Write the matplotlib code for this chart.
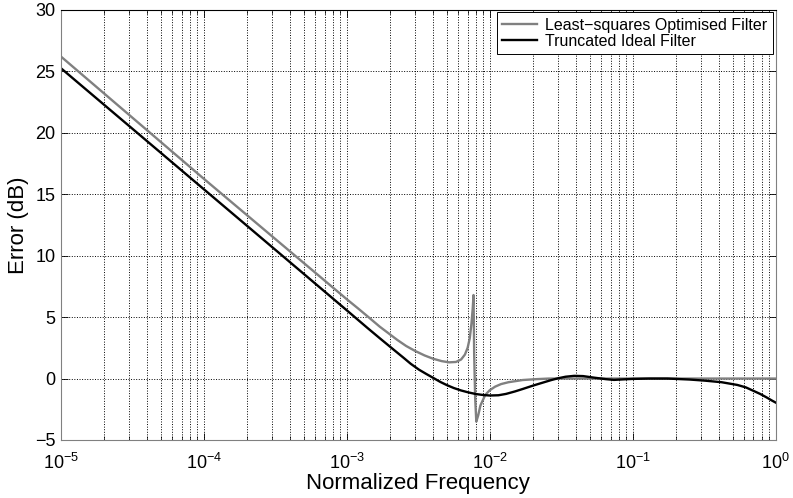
import numpy as np
import matplotlib
matplotlib.use("Agg")
import matplotlib.pyplot as plt
from matplotlib.ticker import LogLocator, MultipleLocator, NullFormatter

plt.rcParams['font.family'] = ['Liberation Sans', 'DejaVu Sans']
plt.rcParams['mathtext.fontset'] = 'custom'
plt.rcParams['mathtext.rm'] = 'Liberation Sans'
plt.rcParams['mathtext.it'] = 'Liberation Sans:italic'
plt.rcParams['mathtext.bf'] = 'Liberation Sans:bold'

# Truncated ideal filter error
ideal_freq = [1e-5, 1e-4, 1e-3, 1.4e-3, 1.7e-3, 2.1e-3, 2.5e-3, 2.8e-3, 3.2e-3,
              3.6e-3, 4.0e-3, 4.5e-3, 5.0e-3, 5.6e-3, 6.3e-3, 7.1e-3, 8.0e-3,
              9.0e-3, 1.0e-2, 1.15e-2, 1.3e-2, 1.5e-2, 1.7e-2, 2.0e-2, 2.4e-2,
              2.7e-2, 3.0e-2, 3.4e-2, 3.9e-2, 4.5e-2, 5.4e-2, 6.5e-2, 7.4e-2,
              8.5e-2, 0.1, 0.13, 0.175, 0.25, 0.32, 0.42, 0.54, 0.62, 0.70,
              0.78, 0.87, 0.94, 1.0]
ideal_db = [25.25, 15.4, 5.55, 4.1, 3.28, 2.4, 1.68, 1.2, 0.72,
            0.37, 0.07, -0.27, -0.53, -0.77, -0.97, -1.13, -1.26,
            -1.34, -1.38, -1.36, -1.25, -1.05, -0.85, -0.58, -0.3,
            -0.12, 0.02, 0.15, 0.22, 0.2, 0.07, -0.05, -0.11,
            -0.07, -0.03, 0.0, 0.0, -0.08, -0.17, -0.3, -0.52, -0.72, -1.0,
            -1.25, -1.55, -1.78, -1.95]

# Least-squares optimised filter error
ls_freq = [1e-5, 1e-4, 1e-3, 1.2e-3, 1.4e-3, 1.7e-3, 2.0e-3, 2.25e-3, 2.6e-3,
           3.0e-3, 3.5e-3, 4.0e-3, 4.6e-3, 5.2e-3, 5.8e-3, 6.3e-3, 6.7e-3,
           7.0e-3, 7.25e-3, 7.45e-3, 7.6e-3, 7.7e-3, 7.78e-3, 7.9e-3, 8.05e-3,
           8.3e-3, 8.6e-3, 9.3e-3, 1.0e-2, 1.09e-2, 1.2e-2, 1.35e-2, 1.7e-2,
           2.1e-2, 2.6e-2, 5e-2, 0.1, 1.0]
ls_db = [26.2, 16.25, 6.45, 5.7, 5.05, 4.22, 3.6, 3.15, 2.65,
         2.25, 1.88, 1.62, 1.42, 1.32, 1.35, 1.55, 1.95,
         2.5, 3.3, 4.5, 5.7, 6.8, 2.0, -1.5, -3.5,
         -3.0, -2.2, -1.33, -0.95, -0.66, -0.45, -0.3, -0.12,
         -0.05, 0.0, 0.0, 0.0, 0.0]

fig = plt.figure(figsize=(7.93, 4.98), dpi=100)
ax = fig.add_axes([0.077, 0.1165, 0.901, 0.8635])

ax.semilogx(ls_freq, ls_db, color='#808080', lw=1.7, label='Least\u2212squares Optimised Filter')
ax.semilogx(ideal_freq, ideal_db, color='black', lw=1.7, label='Truncated Ideal Filter')

ax.set_xlim(1e-5, 1)
ax.set_ylim(-5, 30)
ax.xaxis.set_major_locator(LogLocator(base=10, numticks=10))
ax.xaxis.set_minor_locator(LogLocator(base=10, subs=np.arange(2, 10), numticks=20))
ax.xaxis.set_minor_formatter(NullFormatter())
ax.yaxis.set_major_locator(MultipleLocator(5))

ax.grid(True, which='major', color='black', linestyle=':', linewidth=0.7)
ax.grid(True, which='minor', axis='x', color='black', linestyle=':', linewidth=0.7)

ax.tick_params(which='both', direction='in', top=True, right=True, labelsize=13)
ax.tick_params(which='major', length=5, width=0.6)
ax.tick_params(which='minor', length=3, width=0.5)
ax.tick_params(axis='x', which='major', pad=9)
ax.tick_params(axis='y', which='major', pad=4)

for side in ['left', 'bottom', 'right']:
    ax.spines[side].set_color('#808080')
ax.spines['top'].set_color('black')

ax.set_xlabel('Normalized Frequency', fontsize=16, labelpad=0)
ax.set_ylabel('Error (dB)', fontsize=16, labelpad=4)

leg = ax.legend(loc='upper right', fontsize=11.5, frameon=True, fancybox=False,
                edgecolor='black', framealpha=1, borderaxespad=0.15,
                labelspacing=0.05, handlelength=2.2, handletextpad=0.5,
                borderpad=0.35)
leg.get_frame().set_linewidth(0.7)

fig.savefig('out.png', dpi=100)
